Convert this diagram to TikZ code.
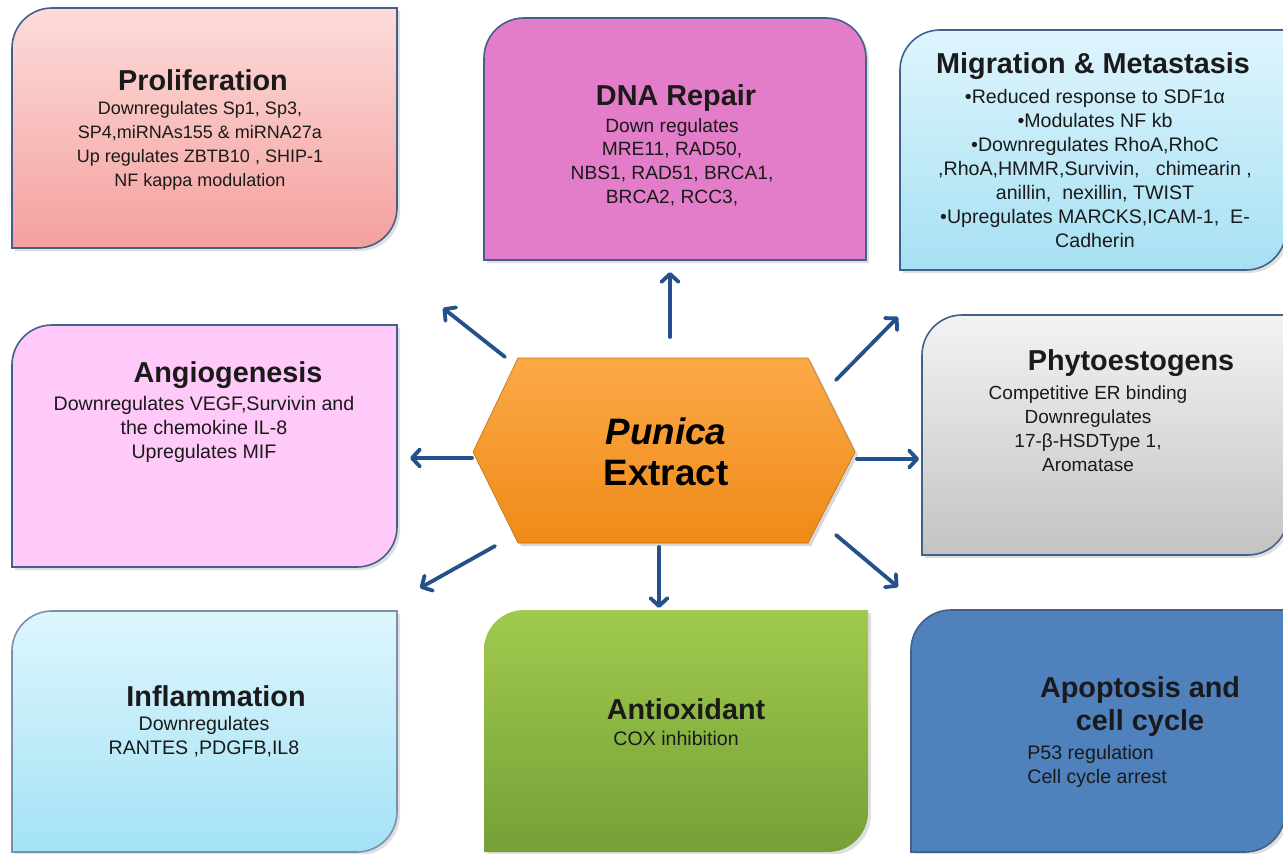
\documentclass[tikz,border=0pt]{standalone}
\usepackage{fontspec}
\setmainfont{Liberation Sans}
\usetikzlibrary{arrows.meta,shadows}
\definecolor{arrowblue}{HTML}{24508C}
\definecolor{edgecol}{HTML}{41608A}
\definecolor{prolTop}{HTML}{FCDCDA}
\definecolor{prolBot}{HTML}{F4A09E}
\definecolor{dnaFill}{HTML}{E47DC9}
\definecolor{migTop}{HTML}{DEF5FD}
\definecolor{migBot}{HTML}{A6E0F3}
\definecolor{angFill}{HTML}{FFC9F9}
\definecolor{phyTop}{HTML}{F3F3F3}
\definecolor{phyBot}{HTML}{C3C3C3}
\definecolor{infTop}{HTML}{DEF6FD}
\definecolor{infBot}{HTML}{A3E2F5}
\definecolor{antTop}{HTML}{A0CA4D}
\definecolor{antBot}{HTML}{76A037}
\definecolor{apoFill}{HTML}{4F81BD}
\definecolor{hexTop}{HTML}{FBA947}
\definecolor{hexBot}{HTML}{F08A18}
\definecolor{txt}{HTML}{1A1A1A}
\newcommand\tlbrbox[5]{%
  \path[#5] (#1,#2) -- (#1,#4-40) arc[start angle=180,end angle=90,radius=20pt]
    -- (#3,#4) -- (#3,#2+40) arc[start angle=0,end angle=-90,radius=20pt] -- cycle;}
\newcommand\toptwobox[5]{%
  \path[#5] (#1,#2) -- (#1,#4-40) arc[start angle=180,end angle=90,radius=20pt]
    -- (#3-40,#4) arc[start angle=90,end angle=0,radius=20pt] -- (#3,#2) -- cycle;}
\tikzset{
  boxshadow/.style={drop shadow={opacity=0.25,shadow xshift=1.5pt,shadow yshift=-1.5pt}},
  boxedge/.style={draw=edgecol,line width=0.8pt},
  ttl/.style={font=\fontsize{14.4}{17}\selectfont\bfseries,text=txt,inner sep=0pt},
  bdy/.style={font=\fontsize{9}{12}\selectfont,text=txt,align=center,inner sep=0pt},
  bdyl/.style={bdy,font=\fontsize{9.8}{12}\selectfont},
  arr/.style={draw=arrowblue,line width=1.9pt,line cap=round,line join=round,
    -{Straight Barb[length=4pt,width=8.5pt,line cap=round,line join=round]}},
}
\begin{document}
\begin{tikzpicture}[x=0.5pt,y=0.5pt]
\useasboundingbox (0,0) rectangle (1283,853);
\fill[white] (0,0) rectangle (1283,853);

% boxes
\tlbrbox{12}{605}{397}{845}{boxshadow,boxedge,top color=prolTop,bottom color=prolBot}
\toptwobox{484}{593}{866}{835}{boxshadow,boxedge,fill=dnaFill}
\tlbrbox{900}{583}{1286}{823}{boxshadow,boxedge,top color=migTop,bottom color=migBot}
\tlbrbox{12}{286}{397}{528}{boxshadow,boxedge,fill=angFill}
\tlbrbox{922}{298}{1288}{538}{boxshadow,boxedge,top color=phyTop,bottom color=phyBot}
\tlbrbox{12}{1}{397}{242}{boxshadow,draw=edgecol!70,line width=0.8pt,top color=infTop,bottom color=infBot}
\tlbrbox{484}{1}{868}{243}{boxshadow,top color=antTop,bottom color=antBot}
\tlbrbox{911}{1}{1285}{243}{boxshadow,boxedge,fill=apoFill}

% texts
\node[ttl] (tprol) at (203,773) {Proliferation};
\node[bdy] (bprol) at (200,707) {Downregulates Sp1, Sp3,\\SP4,miRNAs155 \& miRNA27a\\Up regulates ZBTB10 , SHIP-1\\NF kappa modulation};
\node[ttl] (tdna) at (676,755) {DNA Repair};
\node[bdy,font=\fontsize{9.6}{11.8}\selectfont] (bdna) at (672,691) {Down regulates\\MRE11, RAD50,\\NBS1, RAD51, BRCA1,\\BRCA2, RCC3,};
\node[ttl] (tmig) at (1093,787) {Migration \& Metastasis};
\node[bdyl] (bmig) at (1095,685) {•Reduced response to SDF1α\\•Modulates NF kb\\•Downregulates RhoA,RhoC\\,RhoA,HMMR,Survivin,\ \ \ chimearin ,\\anillin,\ \ nexillin, TWIST\\•Upregulates MARCKS,ICAM-1,\ \ E-\\Cadherin};
\node[ttl] (tang) at (228,478) {Angiogenesis};
\node[bdyl] (bang) at (204,424) {Downregulates VEGF,Survivin and\\the chemokine IL-8\\Upregulates MIF};
\node[ttl] (tphy) at (1131,490) {Phytoestogens};
\node[bdy,font=\fontsize{9.5}{12}\selectfont] (bphy) at (1088,424.5) {Competitive ER binding\\Downregulates\\17-β-HSDType 1,\\Aromatase};
\node[ttl] (tinf) at (216,157) {Inflammation};
\node[bdyl] (binf) at (204,116) {Downregulates\\RANTES ,PDGFB,IL8};
\node[ttl] (tant) at (686,144) {Antioxidant};
\node[bdyl,anchor=west] (bant) at (613,115) {COX inhibition};
\node[ttl,align=center,font=\fontsize{14.4}{16.5}\selectfont\bfseries] (tapo) at (1140,146) {Apoptosis and\\cell cycle};
\node[bdyl,align=left,anchor=west] (bapo) at (1027,87) {P53 regulation\\Cell cycle arrest};

% central hexagon
\path[top color=hexTop,bottom color=hexBot,draw=hexBot!80!black,line width=0.3pt,
  drop shadow={opacity=0.3,shadow xshift=1.5pt,shadow yshift=-1.5pt}]
  (518,495) -- (808,495) -- (855,401) -- (808,310) -- (518,310) -- (473,401) -- cycle;
\node[align=center,inner sep=0pt,text=black,font=\fontsize{18.4}{20.5}\selectfont\bfseries] (hex) at (666,401) {\itshape Punica\\Extract};

% arrow end points
\coordinate (u0) at (670,516); \coordinate (u1) at (670,581);
\coordinate (tl0) at (505,496); \coordinate (tl1) at (443,545);
\coordinate (tr0) at (836,473); \coordinate (tr1) at (898,536);
\coordinate (r0) at (857,394); \coordinate (r1) at (919,394);
\coordinate (br0) at (836,318); \coordinate (br1) at (898,266);
\coordinate (d0) at (659,306); \coordinate (d1) at (659,245);
\coordinate (bl0) at (495,307); \coordinate (bl1) at (420,265);
\coordinate (l0) at (472,395); \coordinate (l1) at (410,395);

\draw[arr] (u0) -- (u1);
\draw[arr] (tl0) -- (tl1);
\draw[arr] (tr0) -- (tr1);
\draw[arr] (r0) -- (r1);
\draw[arr] (br0) -- (br1);
\draw[arr] (d0) -- (d1);
\draw[arr] (bl0) -- (bl1);
\draw[arr] (l0) -- (l1);
\end{tikzpicture}
\end{document}
